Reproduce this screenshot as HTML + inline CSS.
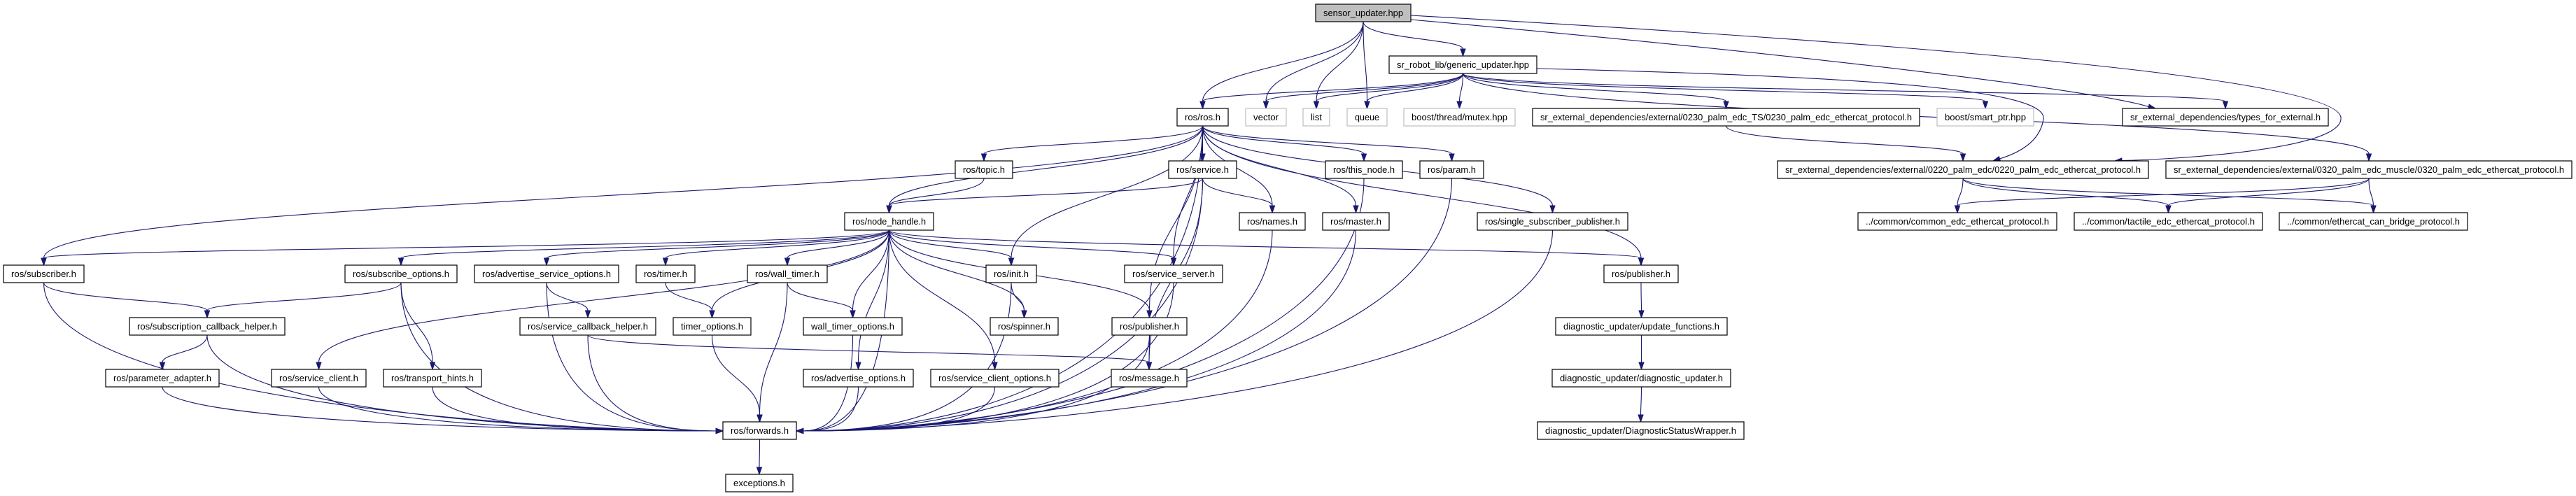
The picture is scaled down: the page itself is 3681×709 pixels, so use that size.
<!DOCTYPE html>
<html><head><meta charset="utf-8"><style>
html,body{margin:0;padding:0;background:#fff;}
svg{display:block;}
text{font-family:"Liberation Sans",Arial,sans-serif;font-size:13px;fill:#000;}
</style></head><body>
<svg id="g" width="3681" height="709" viewBox="0 0 3681 709" xmlns="http://www.w3.org/2000/svg">
<g id="edges" fill="none" stroke="#191970" stroke-width="1.1"></g>
<g id="arrows" fill="#191970" stroke="#191970" stroke-width="1"></g>
<g id="nodes" stroke-width="1.2">
<rect x="1880" y="6" width="136" height="25" fill="#bfbfbf" stroke="#000"/><text x="1948" y="23" text-anchor="middle" textLength="114" lengthAdjust="spacingAndGlyphs">sensor_updater.hpp</text>
<rect x="1985" y="80" width="211" height="25" fill="#fff" stroke="#000"/><text x="2090.5" y="97" text-anchor="middle" textLength="189" lengthAdjust="spacingAndGlyphs">sr_robot_lib/generic_updater.hpp</text>
<rect x="1682" y="155" width="73" height="25" fill="#fff" stroke="#000"/><text x="1718.5" y="172" text-anchor="middle" textLength="51" lengthAdjust="spacingAndGlyphs">ros/ros.h</text>
<rect x="1780" y="155" width="58" height="25" fill="#fff" stroke="#bfbfbf"/><text x="1809" y="172" text-anchor="middle" textLength="36" lengthAdjust="spacingAndGlyphs">vector</text>
<rect x="1862" y="155" width="38" height="25" fill="#fff" stroke="#bfbfbf"/><text x="1881" y="172" text-anchor="middle" textLength="16" lengthAdjust="spacingAndGlyphs">list</text>
<rect x="1925" y="155" width="57" height="25" fill="#fff" stroke="#bfbfbf"/><text x="1953.5" y="172" text-anchor="middle" textLength="35" lengthAdjust="spacingAndGlyphs">queue</text>
<rect x="2006" y="155" width="159" height="25" fill="#fff" stroke="#bfbfbf"/><text x="2085.5" y="172" text-anchor="middle" textLength="137" lengthAdjust="spacingAndGlyphs">boost/thread/mutex.hpp</text>
<rect x="2190" y="155" width="553" height="25" fill="#fff" stroke="#000"/><text x="2466.5" y="172" text-anchor="middle" textLength="531" lengthAdjust="spacingAndGlyphs">sr_external_dependencies/external/0230_palm_edc_TS/0230_palm_edc_ethercat_protocol.h</text>
<rect x="2768" y="155" width="138" height="25" fill="#fff" stroke="#bfbfbf"/><text x="2837" y="172" text-anchor="middle" textLength="116" lengthAdjust="spacingAndGlyphs">boost/smart_ptr.hpp</text>
<rect x="3033" y="155" width="294" height="25" fill="#fff" stroke="#000"/><text x="3180" y="172" text-anchor="middle" textLength="272" lengthAdjust="spacingAndGlyphs">sr_external_dependencies/types_for_external.h</text>
<rect x="1365" y="230" width="82" height="25" fill="#fff" stroke="#000"/><text x="1406" y="247" text-anchor="middle" textLength="60" lengthAdjust="spacingAndGlyphs">ros/topic.h</text>
<rect x="1670" y="230" width="97" height="25" fill="#fff" stroke="#000"/><text x="1718.5" y="247" text-anchor="middle" textLength="75" lengthAdjust="spacingAndGlyphs">ros/service.h</text>
<rect x="1894" y="230" width="110" height="25" fill="#fff" stroke="#000"/><text x="1949" y="247" text-anchor="middle" textLength="88" lengthAdjust="spacingAndGlyphs">ros/this_node.h</text>
<rect x="2029" y="230" width="91" height="25" fill="#fff" stroke="#000"/><text x="2074.5" y="247" text-anchor="middle" textLength="69" lengthAdjust="spacingAndGlyphs">ros/param.h</text>
<rect x="2540" y="230" width="530" height="25" fill="#fff" stroke="#000"/><text x="2805" y="247" text-anchor="middle" textLength="508" lengthAdjust="spacingAndGlyphs">sr_external_dependencies/external/0220_palm_edc/0220_palm_edc_ethercat_protocol.h</text>
<rect x="3095" y="230" width="580" height="25" fill="#fff" stroke="#000"/><text x="3385" y="247" text-anchor="middle" textLength="558" lengthAdjust="spacingAndGlyphs">sr_external_dependencies/external/0320_palm_edc_muscle/0320_palm_edc_ethercat_protocol.h</text>
<rect x="1207" y="304" width="127" height="25" fill="#fff" stroke="#000"/><text x="1270.5" y="321" text-anchor="middle" textLength="105" lengthAdjust="spacingAndGlyphs">ros/node_handle.h</text>
<rect x="1771" y="304" width="94" height="25" fill="#fff" stroke="#000"/><text x="1818" y="321" text-anchor="middle" textLength="72" lengthAdjust="spacingAndGlyphs">ros/names.h</text>
<rect x="1890" y="304" width="95" height="25" fill="#fff" stroke="#000"/><text x="1937.5" y="321" text-anchor="middle" textLength="73" lengthAdjust="spacingAndGlyphs">ros/master.h</text>
<rect x="2111" y="304" width="215" height="25" fill="#fff" stroke="#000"/><text x="2218.5" y="321" text-anchor="middle" textLength="193" lengthAdjust="spacingAndGlyphs">ros/single_subscriber_publisher.h</text>
<rect x="2655" y="304" width="284" height="25" fill="#fff" stroke="#000"/><text x="2797" y="321" text-anchor="middle" textLength="262" lengthAdjust="spacingAndGlyphs">../common/common_edc_ethercat_protocol.h</text>
<rect x="2964" y="304" width="269" height="25" fill="#fff" stroke="#000"/><text x="3098.5" y="321" text-anchor="middle" textLength="247" lengthAdjust="spacingAndGlyphs">../common/tactile_edc_ethercat_protocol.h</text>
<rect x="3257" y="304" width="269" height="25" fill="#fff" stroke="#000"/><text x="3391.5" y="321" text-anchor="middle" textLength="247" lengthAdjust="spacingAndGlyphs">../common/ethercat_can_bridge_protocol.h</text>
<rect x="5" y="379" width="115" height="25" fill="#fff" stroke="#000"/><text x="62.5" y="396" text-anchor="middle" textLength="93" lengthAdjust="spacingAndGlyphs">ros/subscriber.h</text>
<rect x="493" y="379" width="160" height="25" fill="#fff" stroke="#000"/><text x="573" y="396" text-anchor="middle" textLength="138" lengthAdjust="spacingAndGlyphs">ros/subscribe_options.h</text>
<rect x="678" y="379" width="206" height="25" fill="#fff" stroke="#000"/><text x="781" y="396" text-anchor="middle" textLength="184" lengthAdjust="spacingAndGlyphs">ros/advertise_service_options.h</text>
<rect x="909" y="379" width="84" height="25" fill="#fff" stroke="#000"/><text x="951" y="396" text-anchor="middle" textLength="62" lengthAdjust="spacingAndGlyphs">ros/timer.h</text>
<rect x="1068" y="379" width="114" height="25" fill="#fff" stroke="#000"/><text x="1125" y="396" text-anchor="middle" textLength="92" lengthAdjust="spacingAndGlyphs">ros/wall_timer.h</text>
<rect x="1409" y="379" width="72" height="25" fill="#fff" stroke="#000"/><text x="1445" y="396" text-anchor="middle" textLength="50" lengthAdjust="spacingAndGlyphs">ros/init.h</text>
<rect x="1607" y="379" width="140" height="25" fill="#fff" stroke="#000"/><text x="1677" y="396" text-anchor="middle" textLength="118" lengthAdjust="spacingAndGlyphs">ros/service_server.h</text>
<rect x="2292" y="379" width="106" height="25" fill="#fff" stroke="#000"/><text x="2345" y="396" text-anchor="middle" textLength="84" lengthAdjust="spacingAndGlyphs">ros/publisher.h</text>
<rect x="185" y="454" width="222" height="25" fill="#fff" stroke="#000"/><text x="296" y="471" text-anchor="middle" textLength="200" lengthAdjust="spacingAndGlyphs">ros/subscription_callback_helper.h</text>
<rect x="743" y="454" width="194" height="25" fill="#fff" stroke="#000"/><text x="840" y="471" text-anchor="middle" textLength="172" lengthAdjust="spacingAndGlyphs">ros/service_callback_helper.h</text>
<rect x="962" y="454" width="111" height="25" fill="#fff" stroke="#000"/><text x="1017.5" y="471" text-anchor="middle" textLength="89" lengthAdjust="spacingAndGlyphs">timer_options.h</text>
<rect x="1148" y="454" width="141" height="25" fill="#fff" stroke="#000"/><text x="1218.5" y="471" text-anchor="middle" textLength="119" lengthAdjust="spacingAndGlyphs">wall_timer_options.h</text>
<rect x="1415" y="454" width="97" height="25" fill="#fff" stroke="#000"/><text x="1463.5" y="471" text-anchor="middle" textLength="75" lengthAdjust="spacingAndGlyphs">ros/spinner.h</text>
<rect x="1589" y="454" width="107" height="25" fill="#fff" stroke="#000"/><text x="1642.5" y="471" text-anchor="middle" textLength="85" lengthAdjust="spacingAndGlyphs">ros/publisher.h</text>
<rect x="2223" y="454" width="245" height="25" fill="#fff" stroke="#000"/><text x="2345.5" y="471" text-anchor="middle" textLength="223" lengthAdjust="spacingAndGlyphs">diagnostic_updater/update_functions.h</text>
<rect x="151" y="528" width="162" height="25" fill="#fff" stroke="#000"/><text x="232" y="545" text-anchor="middle" textLength="140" lengthAdjust="spacingAndGlyphs">ros/parameter_adapter.h</text>
<rect x="388" y="528" width="135" height="25" fill="#fff" stroke="#000"/><text x="455.5" y="545" text-anchor="middle" textLength="113" lengthAdjust="spacingAndGlyphs">ros/service_client.h</text>
<rect x="548" y="528" width="140" height="25" fill="#fff" stroke="#000"/><text x="618" y="545" text-anchor="middle" textLength="118" lengthAdjust="spacingAndGlyphs">ros/transport_hints.h</text>
<rect x="1148" y="528" width="157" height="25" fill="#fff" stroke="#000"/><text x="1226.5" y="545" text-anchor="middle" textLength="135" lengthAdjust="spacingAndGlyphs">ros/advertise_options.h</text>
<rect x="1330" y="528" width="183" height="25" fill="#fff" stroke="#000"/><text x="1421.5" y="545" text-anchor="middle" textLength="161" lengthAdjust="spacingAndGlyphs">ros/service_client_options.h</text>
<rect x="1588" y="528" width="108" height="25" fill="#fff" stroke="#000"/><text x="1642" y="545" text-anchor="middle" textLength="86" lengthAdjust="spacingAndGlyphs">ros/message.h</text>
<rect x="2218" y="528" width="255" height="25" fill="#fff" stroke="#000"/><text x="2345.5" y="545" text-anchor="middle" textLength="233" lengthAdjust="spacingAndGlyphs">diagnostic_updater/diagnostic_updater.h</text>
<rect x="1033" y="603" width="105" height="25" fill="#fff" stroke="#000"/><text x="1085.5" y="620" text-anchor="middle" textLength="83" lengthAdjust="spacingAndGlyphs">ros/forwards.h</text>
<rect x="2197" y="603" width="295" height="25" fill="#fff" stroke="#000"/><text x="2344.5" y="620" text-anchor="middle" textLength="273" lengthAdjust="spacingAndGlyphs">diagnostic_updater/DiagnosticStatusWrapper.h</text>
<rect x="1037" y="678" width="96" height="25" fill="#fff" stroke="#000"/><text x="1085" y="695" text-anchor="middle" textLength="74" lengthAdjust="spacingAndGlyphs">exceptions.h</text>
</g>
</svg>
<script>
(function(){
var R=[6,80,155,230,304,379,454,528,603,678],H=25;
var N={su:[1880,2016,0],gu:[1985,2196,1],ros:[1682,1755,2],vec:[1780,1838,2],list:[1862,1900,2],queue:[1925,1982,2],mutex:[2006,2165,2],p0230:[2190,2743,2],smart:[2768,2906,2],types:[3033,3327,2],
topic:[1365,1447,3],service:[1670,1767,3],thisnode:[1894,2004,3],param:[2029,2120,3],p0220:[2540,3070,3],p0320:[3095,3675,3],
nh:[1207,1334,4],names:[1771,1865,4],master:[1890,1985,4],ssp:[2111,2326,4],cedc:[2655,2939,4],tact:[2964,3233,4],can:[3257,3526,4],
sub:[5,120,5],subopt:[493,653,5],advsrv:[678,884,5],timer:[909,993,5],wtimer:[1068,1182,5],init:[1409,1481,5],srvsrv:[1607,1747,5],pubR:[2292,2398,5],
sch:[185,407,6],svcb:[743,937,6],topt:[962,1073,6],wtopt:[1148,1289,6],spin:[1415,1512,6],pub:[1589,1696,6],upd:[2223,2468,6],
padapt:[151,313,7],sclient:[388,523,7],thints:[548,688,7],advopt:[1148,1305,7],sco:[1330,1513,7],msg:[1588,1696,7],dupd:[2218,2473,7],
fwd:[1033,1138,8],dsw:[2197,2492,8],exc:[1037,1133,9]};
var E=[["su","gu"],["su","ros"],["su","vec"],["su","list"],["su","queue"],
["gu","ros"],["gu","vec"],["gu","list"],["gu","queue"],["gu","mutex"],["gu","p0230"],["gu","smart"],["gu","types"],["gu","p0320"],
["p0230","p0220"],["p0220","cedc"],["p0220","tact"],["p0220","can"],["p0320","cedc"],["p0320","tact"],["p0320","can"],
["ros","nh"],["ros","topic"],["ros","service"],["ros","sub"],["ros","names"],["ros","thisnode"],["ros","param"],["ros","master"],["ros","ssp"],["ros","pubR"],["ros","init"],["ros","pub"],["ros","srvsrv"],["ros","fwd"],
["topic","nh"],["service","nh"],["service","names"],["service","msg"],["service","fwd"],
["names","fwd"],["master","fwd"],["thisnode","fwd"],["param","fwd"],["ssp","fwd"],
["pubR","upd"],["upd","dupd"],["dupd","dsw"],
["nh","sub"],["nh","subopt"],["nh","advsrv"],["nh","timer"],["nh","wtimer"],["nh","topt"],["nh","wtopt"],["nh","advopt"],["nh","sco"],["nh","init"],["nh","spin"],["nh","pub"],["nh","srvsrv"],["nh","pubR"],["nh","sclient"],["nh","fwd"],
["sub","sch"],["sub","fwd"],["subopt","sch"],["subopt","thints"],["subopt","fwd"],["advsrv","svcb"],["advsrv","fwd"],["sch","padapt"],["sch","fwd"],["svcb","msg"],["svcb","fwd"],
["timer","topt"],["topt","fwd"],["wtimer","wtopt"],["wtimer","fwd"],["wtopt","fwd"],["padapt","fwd"],["sclient","fwd"],["thints","fwd"],["advopt","fwd"],["sco","fwd"],
["init","spin"],["init","fwd"],["pub","msg"],["pub","fwd"],["srvsrv","fwd"],["fwd","exc"]];
var eg=document.getElementById("edges"),ag=document.getElementById("arrows"),NS="http://www.w3.org/2000/svg";
function add(d,tx,ty,cx,cy){
 var dx=tx-cx,dy=ty-cy,l=Math.sqrt(dx*dx+dy*dy)||1;dx/=l;dy/=l;
 var bx=tx-dx*10,by=ty-dy*10;
 var p=document.createElementNS(NS,"path");p.setAttribute("d",d+" "+bx.toFixed(1)+","+by.toFixed(1));eg.appendChild(p);
 var q=document.createElementNS(NS,"polygon");
 q.setAttribute("points",tx+","+ty+" "+(bx-dy*3.5).toFixed(1)+","+(by+dx*3.5).toFixed(1)+" "+(bx+dy*3.5).toFixed(1)+","+(by-dx*3.5).toFixed(1));
 ag.appendChild(q);
}
E.forEach(function(e){
 var a=N[e[0]],b=N[e[1]];
 var sx=(a[0]+a[1])/2,sy=R[a[2]]+H,tx=(b[0]+b[1])/2,ty=R[b[2]];
 if(e[1]=="fwd"){
  var fy=616;
  if(sx<1000){tx=1033;ty=fy;var off=Math.min(250,(tx-sx)*0.6);var c1y=sy+(ty-sy)*0.8;add("M"+sx+","+sy+" C"+sx+","+c1y+" "+(tx-off)+","+ty,tx,ty,tx-off,ty);return;}
  if(sx>1170){tx=1138;ty=fy;var off2=Math.min(250,(sx-tx)*0.6);var c1y2=sy+(ty-sy)*0.8;add("M"+sx+","+sy+" C"+sx+","+c1y2+" "+(tx+off2)+","+ty,tx,ty,tx+off2,ty);return;}
 }
 var dy=ty-sy,c1=sy+dy*0.5,c2=ty-dy*0.5;
 add("M"+sx+","+sy+" C"+sx+","+c1+" "+tx+","+c2,tx,ty,tx,c2);
});
add("M2016,22 C2700,60 3340,110 3345,168 C3350,215 3100,228",3022,230,3100,226);
add("M2016,28 C2600,80 3000,130",3080,155,3000,135);
add("M2196,98 C2700,110 2925,130 2920,170 C2915,205 2880,220",2848,230,2880,220);
})();
</script>
</body></html>
